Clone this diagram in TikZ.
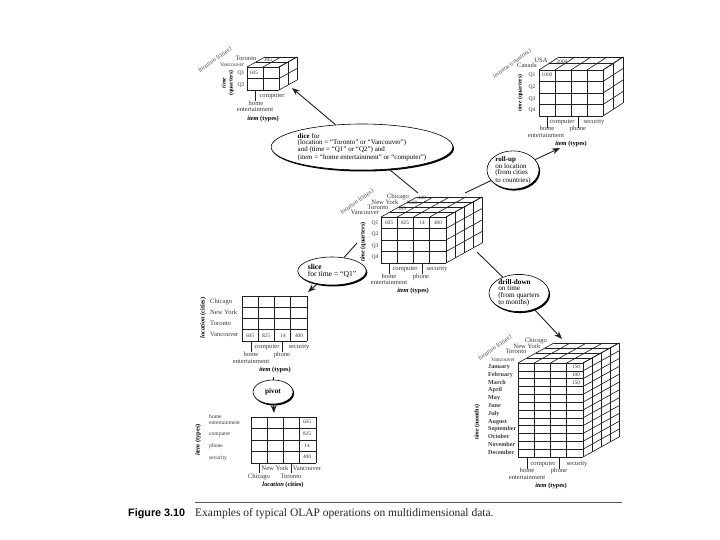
\documentclass[tikz,border=0pt]{standalone}
\usepackage{fontspec}
\setmainfont{Liberation Serif}
\newfontfamily\capsans{Liberation Sans}
\usetikzlibrary{shapes.geometric,shadows,arrows.meta}
\definecolor{ink}{gray}{0.13}
\definecolor{txt}{gray}{0.22}
\newcounter{lb}
\tikzset{
  lbl/.style={inner sep=0pt,text=txt,text height=4.4pt,text depth=1.3pt,font=\fontsize{6.6}{7}\selectfont},
  val/.style={lbl,font=\fontsize{5.3}{6}\selectfont},
  qlab/.style={lbl,font=\fontsize{5.6}{6}\selectfont},
  mon/.style={lbl,anchor=west,font=\bfseries\fontsize{6.1}{7}\selectfont},
  axis/.style={lbl,text=black,font=\bfseries\fontsize{6.4}{7}\selectfont},
  locaxis/.style={lbl,rotate=36,text=black!75,font=\fontsize{6.2}{7}\selectfont},
  grid/.style={draw=ink,line width=0.65pt},
  tick/.style={draw=ink,line width=0.8pt},
  op/.style={ellipse,draw=black,line width=0.6pt,fill=white,inner sep=0pt,align=left,
    text=black,font=\fontsize{7.2}{6.1}\selectfont,
    drop shadow={shadow xshift=1.1pt,shadow yshift=-1.5pt,opacity=1,fill=black}},
  link/.style={draw=ink,line width=0.9pt},
  linka/.style={link,-{Stealth[length=8pt,width=6pt]}},
}
\newcommand\lab[4][lbl]{\stepcounter{lb}\node[#1] (lb\arabic{lb}) at (#2,#3) {#4};}
% x y W H ncols nrows ndepth DX DY
\newcommand\olapcube[9]{%
  \foreach \i in {0,...,#5}{
    \draw[grid] ({#1+\i*#3/#5},#2) -- ({#1+\i*#3/#5},{#2+#4});
    \draw[grid] ({#1+\i*#3/#5},#2) -- ({#1+\i*#3/#5+#8},{#2+#9});
  }
  \foreach \j in {0,...,#6}{
    \draw[grid] (#1,{#2+\j*#4/#6}) -- ({#1+#3},{#2+\j*#4/#6});
    \draw[grid] ({#1+#3},{#2+\j*#4/#6}) -- ({#1+#3+#8},{#2+\j*#4/#6+#9});
  }
  \foreach \k in {1,...,#7}{
    \draw[grid] ({#1+\k*#8/#7},{#2+\k*#9/#7}) -- ({#1+#3+\k*#8/#7},{#2+\k*#9/#7});
    \draw[grid] ({#1+#3+\k*#8/#7},{#2+\k*#9/#7}) -- ({#1+#3+\k*#8/#7},{#2+#4+\k*#9/#7});
  }
}
\newcommand\axt[1]{\textit{#1}}
\begin{document}
\begin{tikzpicture}[x=1pt,y=-1pt]
\useasboundingbox (0,0) rectangle (720,540);
\fill[white] (0,0) rectangle (720,540);

% ---------- cubes and tables
\olapcube{247}{67}{32}{23}{2}{2}{2}{18}{-10}
\olapcube{539}{70}{64}{46}{4}{4}{2}{20}{-13}
\olapcube{381}{217}{65}{46}{4}{4}{4}{36}{-20}
\olapcube{518}{363}{65}{94}{4}{12}{4}{36}{-20}
\olapcube{242}{296}{65}{45}{4}{4}{1}{0}{0}
\olapcube{251}{417}{65}{46}{4}{4}{1}{0}{0}

% ---------- named connector ends
\coordinate (cubeA) at (292,88);
\coordinate (cubeB) at (560,148);
\coordinate (centreNW) at (418,193);
\coordinate (centreNE) at (465,193);
\coordinate (centreW) at (357,243);
\coordinate (centreSE) at (477,252);
\coordinate (sliceT) at (308,292);
\coordinate (drillT) at (562,339);
\coordinate (sliceB) at (273,377);
\coordinate (pivotT) at (274,413);
\coordinate (ruleL) at (195,502);
\coordinate (ruleR) at (622,502);

% ---------- operation ellipses
\node[op,font=\fontsize{7}{6}\selectfont,minimum width=146pt,minimum height=46pt] (dice) at (362,147)
  {\textbf{dice} for\\(location = “Toronto” or “Vancouver”)\\and (time = “Q1” or “Q2”) and\\(item = “home entertainment” or “computer”)};
\node[op,font=\fontsize{7}{6}\selectfont,minimum width=52pt,minimum height=36pt] (rollup) at (513,170)
  {\textbf{roll-up}\\on location\\(from cities\\to countries)};
\node[op,font=\fontsize{7.6}{6.4}\selectfont,minimum width=52pt,minimum height=28pt] (slice) at (332,271)
  {\textbf{slice}\\for time = “Q1”};
\node[op,minimum width=60pt,minimum height=35pt] (drill) at (519,293)
  {\textbf{drill-down}\\on time\\(from quarters\\to months)};
\node[op,minimum width=40pt,minimum height=24pt] (pivot) at (273,392) {\textbf{pivot}};

% ---------- connectors
\draw[linka] (dice) -- (cubeA);
\draw[link] (centreNW) -- (dice);
\draw[link] (centreNE) -- (rollup);
\draw[linka] (rollup) -- (cubeB);
\draw[link] (centreW) -- (slice);
\draw[linka] (slice) -- (sliceT);
\draw[link] (centreSE) -- (drill);
\draw[linka] (drill) -- (drillT);
\draw[link] (sliceB) -- (pivot);
\draw[linka] (pivot) -- (pivotT);

% ---------- cube A labels
\lab[locaxis]{215}{60}{\axt{location} (cities)}
\lab[axis,rotate=90]{224}{83}{\fontsize{5.8}{6}\selectfont\axt{time}}
\lab[axis,rotate=90]{231}{83}{\fontsize{5.8}{6}\selectfont(quarters)}
\lab{246}{59}{Toronto}
\lab[qlab]{268}{60}{395}
\lab[qlab]{232}{65}{Vancouver}
\lab[qlab]{241}{73}{Q1}
\lab[qlab]{241}{85}{Q2}
\lab[val]{254}{73}{605}
\lab{272}{96}{computer}
\lab{256}{104}{home}
\lab{255}{110}{entertainment}
\lab[axis]{263}{119}{\axt{item} (types)}
\draw[tick] (255,90) -- (255,101);

% ---------- cube B labels
\lab[locaxis,font=\fontsize{5.8}{7}\selectfont]{512}{64}{\axt{location} (countries)}
\lab[axis,rotate=90]{520}{93}{\fontsize{5.8}{6}\selectfont\axt{time} (quarters)}
\lab{541}{61}{USA}
\lab{527}{66}{Canada}
\lab[val]{562}{62}{2000}
\lab[val]{547}{75}{1000}
\lab[qlab]{532}{75}{Q1}
\lab[qlab]{532}{87}{Q2}
\lab[qlab]{532}{99}{Q3}
\lab[qlab]{532}{110}{Q4}
\lab{562}{122}{computer}
\lab{594}{122}{security}
\lab{547}{129}{home}
\lab{578}{129}{phone}
\lab{546}{136}{entertainment}
\lab[axis]{571}{144}{\axt{item} (types)}
\draw[tick] (547,116) -- (547,128);
\draw[tick] (578,116) -- (578,128);

% ---------- centre cube labels
\lab[locaxis]{357}{202}{\axt{location} (cities)}
\lab[axis,rotate=90]{363}{242}{\fontsize{6.2}{6}\selectfont\axt{time} (quarters)}
\lab{398}{197}{Chicago}
\lab{385}{203}{New York}
\lab{378}{208}{Toronto}
\lab{365}{213}{Vancouver}
\lab[val]{422}{198}{440}
\lab[val]{412}{203}{1560}
\lab[val]{402}{209}{395}
\lab[qlab]{375}{223}{Q1}
\lab[qlab]{375}{234}{Q2}
\lab[qlab]{375}{246}{Q3}
\lab[qlab]{375}{257}{Q4}
\lab[val]{389}{223}{605}
\lab[val]{405}{223}{825}
\lab[val]{422}{223}{14}
\lab[val]{438}{223}{400}
\lab{405}{269}{computer}
\lab{437}{269}{security}
\lab{389}{277}{home}
\lab{421}{277}{phone}
\lab{389}{283}{entertainment}
\lab[axis]{413}{291}{\axt{item} (types)}
\draw[tick] (389,263) -- (389,274);
\draw[tick] (422,263) -- (422,274);

% ---------- slice table labels
\lab[axis,rotate=90]{203}{318}{\axt{location} (cities)}
\lab[lbl,anchor=west]{210}{302}{Chicago}
\lab[lbl,anchor=west]{210}{313}{New York}
\lab[lbl,anchor=west]{210}{324}{Toronto}
\lab[lbl,anchor=west]{210}{335}{Vancouver}
\lab[val]{250}{336}{605}
\lab[val]{266}{336}{825}
\lab[val]{283}{336}{14}
\lab[val]{299}{336}{400}
\lab{267}{347}{computer}
\lab{299}{347}{security}
\lab{251}{355}{home}
\lab{282}{355}{phone}
\lab{251}{362}{entertainment}
\lab[axis]{275}{370}{\axt{item} (types)}
\draw[tick] (251,341) -- (251,352);
\draw[tick] (282,341) -- (282,352);

% ---------- pivot table labels
\lab[axis,rotate=90]{198}{440}{\axt{item} (types)}
\lab[qlab,anchor=west]{209}{417}{home}
\lab[qlab,anchor=west]{209}{423}{entertainment}
\lab[qlab,anchor=west]{209}{434}{computer}
\lab[qlab,anchor=west]{209}{446}{phone}
\lab[qlab,anchor=west]{209}{458}{security}
\lab[val]{307}{422}{605}
\lab[val]{307}{434}{825}
\lab[val]{307}{446}{14}
\lab[val]{307}{457}{400}
\lab{275}{469}{New York}
\lab{307}{469}{Vancouver}
\lab{259}{477}{Chicago}
\lab{291}{477}{Toronto}
\lab[axis]{283}{485}{\axt{location} (cities)}
\draw[tick] (259,463) -- (259,473);
\draw[tick] (291,463) -- (291,473);

% ---------- drill-down cube labels
\lab[locaxis]{495}{348}{\axt{location} (cities)}
\lab[axis,rotate=90]{477}{422}{\fontsize{6.0}{6}\selectfont\axt{time} (months)}
\lab{536}{341}{Chicago}
\lab{527}{347}{New York}
\lab{516}{352}{Toronto}
\lab[qlab]{503}{360}{Vancouver}
\lab[mon]{488}{367}{January}
\lab[mon]{488}{374.8}{February}
\lab[mon]{488}{382.6}{March}
\lab[mon]{488}{390.4}{April}
\lab[mon]{488}{398.2}{May}
\lab[mon]{488}{406}{June}
\lab[mon]{488}{413.8}{July}
\lab[mon]{488}{421.6}{August}
\lab[mon]{488}{429.4}{September}
\lab[mon]{488}{437.2}{October}
\lab[mon]{488}{445}{November}
\lab[mon]{488}{452.8}{December}
\lab[val]{576}{367}{150}
\lab[val]{576}{375}{100}
\lab[val]{576}{383}{150}
\lab{543}{464}{computer}
\lab{577}{464}{security}
\lab{527}{471}{home}
\lab{559}{471}{phone}
\lab{527}{478}{entertainment}
\lab[axis]{551}{486}{\axt{item} (types)}
\draw[tick] (527,457) -- (527,469);
\draw[tick] (559,457) -- (559,469);

% ---------- caption
\draw[draw=black!65,line width=1pt] (ruleL) -- (ruleR);
\node[inner sep=0pt,anchor=west,text=black,font=\capsans\bfseries\fontsize{10.8}{12}\selectfont] (figno) at (128,514) {Figure 3.10};
\node[inner sep=0pt,anchor=west,text=black!85,font=\fontsize{11.5}{12}\selectfont] (figcap) at (195,514) {Examples of typical OLAP operations on multidimensional data.};
\end{tikzpicture}
\end{document}
